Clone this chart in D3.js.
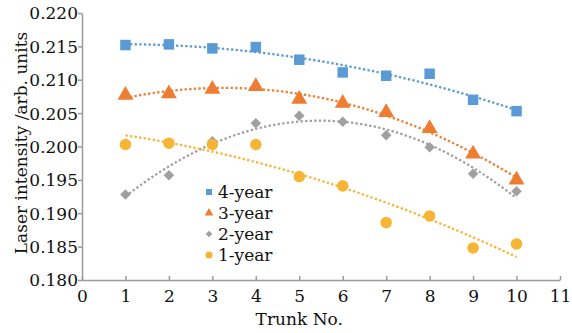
<!DOCTYPE html>
<html><head><meta charset="utf-8">
<script src="https://cdn.jsdelivr.net/npm/d3@7"></script>
<style>body{margin:0;background:#fff}svg{display:block}text{font-family:"DejaVu Serif",serif;fill:#111}</style>
</head><body><svg id="c" width="572" height="333"></svg>
<script>
const trunks = [1,2,3,4,5,6,7,8,9,10];
const year4 = [0.2152,0.2153,0.2147,0.2149,0.2130,0.2111,0.2106,0.2109,0.2070,0.2053];
const year3 = [0.2077,0.2079,0.2086,0.2090,0.2071,0.2065,0.2051,0.2027,0.1989,0.1950];
const year2 = [0.1928,0.1957,0.2008,0.2035,0.2046,0.2037,0.2017,0.1999,0.1959,0.1933];
const year1 = [0.2003,0.2005,0.2003,0.2003,0.1955,0.1941,0.1886,0.1896,0.1848,0.1854];
const seriesNames = ["4-year","3-year","2-year","1-year"];
const xTicks = [0,1,2,3,4,5,6,7,8,9,10,11];
const yTicks = [0.180,0.185,0.190,0.195,0.200,0.205,0.210,0.215,0.220];

const colors = ["#5b9bd5","#ed7d31","#a0a0a0","#f7b536"];
const symbols = [d3.symbolSquare, d3.symbolTriangle, d3.symbolSquare, d3.symbolCircle];
const rotations = [0,0,45,0];
const sizes = [110, 110, 55, 105];
const legendSizes = [36, 32, 22, 40];
const allSeries = [year4, year3, year2, year1];

const svg = d3.select("#c");
const x = d3.scaleLinear().domain([0,11]).range([82,560]);
const y = d3.scaleLinear().domain([0.180,0.220]).range([280,13]);
const axisColor = "#9a9a9a";

// quadratic least-squares fit
function quadFit(xs, ys){
  let S=[0,0,0,0,0], T=[0,0,0];
  xs.forEach((xv,i)=>{ for(let k=0;k<5;k++) S[k]+=Math.pow(xv,k); for(let k=0;k<3;k++) T[k]+=ys[i]*Math.pow(xv,k); });
  const A=[[S[0],S[1],S[2],T[0]],[S[1],S[2],S[3],T[1]],[S[2],S[3],S[4],T[2]]];
  for(let i=0;i<3;i++){ for(let j=i+1;j<3;j++){ const f=A[j][i]/A[i][i]; for(let k=i;k<4;k++) A[j][k]-=f*A[i][k]; } }
  const c=[0,0,0];
  for(let i=2;i>=0;i--){ let s=A[i][3]; for(let k=i+1;k<3;k++) s-=A[i][k]*c[k]; c[i]=s/A[i][i]; }
  return xv=>c[0]+c[1]*xv+c[2]*xv*xv;
}

// axes
const yAxis = svg.append("g").attr("transform","translate(82,0)")
  .call(d3.axisLeft(y).tickValues(yTicks).tickFormat(d3.format(".3f")).tickSize(4).tickSizeOuter(0));
const xAxis = svg.append("g").attr("transform","translate(0,280)")
  .call(d3.axisBottom(x).tickValues(xTicks).tickFormat(d3.format("d")).tickSize(-4).tickSizeOuter(0));
[yAxis,xAxis].forEach(g=>{
  g.selectAll("path,line").attr("stroke",axisColor).attr("stroke-width",1.5);
  g.selectAll("text").attr("font-size",17).attr("fill","#111").style("font-family","'DejaVu Serif',serif");
});
yAxis.selectAll("text").attr("x",-4).attr("dy","0.35em");
xAxis.selectAll("text").attr("y",10).attr("dy","0.71em");

// trend lines
const fine = d3.range(1,10.001,0.1);
allSeries.forEach((vals,si)=>{
  const f = quadFit(trunks, vals);
  svg.append("path").datum(fine)
    .attr("d", d3.line().x(d=>x(d)).y(d=>y(f(d))))
    .attr("fill","none").attr("stroke",colors[si]).attr("stroke-width",2.3)
    .attr("stroke-dasharray","2.3,2.3");
});

// markers
allSeries.forEach((vals,si)=>{
  svg.append("g").selectAll("path").data(vals).join("path")
    .attr("transform",(d,i)=>`translate(${x(trunks[i])},${y(d)}) rotate(${rotations[si]})`)
    .attr("d", d3.symbol().type(symbols[si]).size(sizes[si]))
    .attr("fill",colors[si]);
});

// legend
const lg = svg.append("g").attr("transform","translate(209,192)");
seriesNames.forEach((n,i)=>{
  const row = lg.append("g").attr("transform",`translate(0,${i*21})`);
  row.append("path").attr("d",d3.symbol().type(symbols[i]).size(legendSizes[i])).attr("transform",`rotate(${rotations[i]})`).attr("fill",colors[i]);
  row.append("text").attr("x",9).attr("dy","0.35em").attr("font-size",17).text(n);
});

// titles
svg.append("text").attr("x",x(5.0)).attr("y",325).attr("text-anchor","middle").attr("font-size",17).text("Trunk No.");
svg.append("text").attr("transform","translate(27,143) rotate(-90)").attr("text-anchor","middle").attr("font-size",17).text("Laser intensity /arb. units");
</script></body></html>
